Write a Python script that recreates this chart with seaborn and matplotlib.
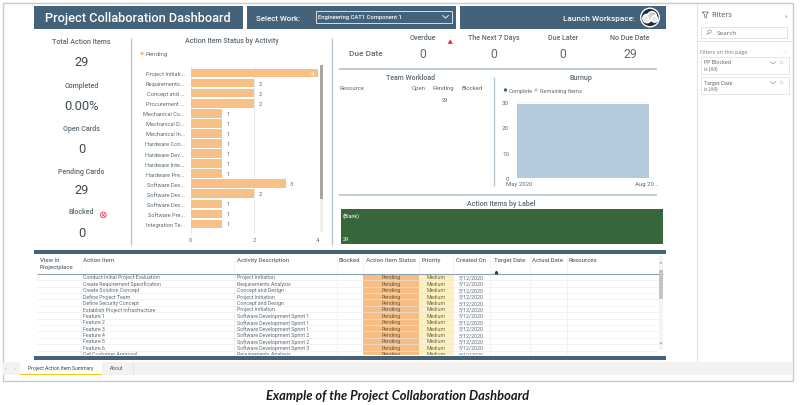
import matplotlib
matplotlib.use("Agg")
import matplotlib.pyplot as plt
from matplotlib.patches import Rectangle, Circle, Polygon
import seaborn as sns
import pandas as pd

activities = ["Project Initiati...", "Requirements...", "Concept and ...", "Procurement ...", "Mechanical Co...",
              "Mechanical D...", "Mechanical In...", "Hardware Con...", "Hardware Dev...", "Hardware Inte...",
              "Hardware Pre...", "Software Dev...", "Software Dev... ", "Software Dev...  ", "Software Pre...",
              "Integration Te..."]
pending = [4, 2, 2, 2, 1, 1, 1, 1, 1, 1, 1, 3, 2, 1, 1, 1]

burn_weeks = ["May 2020", "w2", "w3", "w4", "w5", "w6", "w7", "w8", "w9", "w10", "w11", "w12", "w13", "w14", "w15", "Aug 20..."]
burn_remaining = [29, 29, 29, 29, 29, 29, 29, 29, 29, 29, 29, 29, 29, 29, 29, 29]

kpi_labels = ["Total Action Items", "Completed", "Open Cards", "Pending Cards", "Blocked"]
kpi_values = ["29", "0.00%", "0", "29", "0"]
due_labels = ["Overdue", "The Next 7 Days", "Due Later", "No Due Date"]
due_values = ["0", "0", "0", "29"]

table_items = ["Conduct Initial Project Evaluation", "Create Requirement Specification", "Create Solution Concept",
               "Define Project Team", "Define Security Concept", "Establish Project Infrastructure",
               "Feature 1", "Feature 2", "Feature 3", "Feature 4", "Feature 5", "Feature 6", "Get Customer Approval"]
table_activity = ["Project Initiation", "Requirements Analysis", "Concept and Design", "Project Initiation",
                  "Concept and Design", "Project Initiation", "Software Development Sprint 1",
                  "Software Development Sprint 1", "Software Development Sprint 1", "Software Development Sprint 2",
                  "Software Development Sprint 2", "Software Development Sprint 3", "Requirements Analysis"]
table_status = "Pending"
table_priority = "Medium"
table_created = "5/12/2020"

FONT = ["Roboto", "DejaVu Sans"]
sns.set_theme(style="white")
plt.rcParams["font.family"] = FONT

NAVY = "#44627a"
GREY = "#5f6b73"
DARK = "#3f4a52"
RULE = "#b8c6d0"
ORANGE = "#f7c086"
BLUE = "#b3cbdd"

W, H = 800, 406
fig = plt.figure(figsize=(W / 100, H / 100), dpi=100, facecolor="white")
bg = fig.add_axes([0, 0, 1, 1])
bg.set_xlim(0, W); bg.set_ylim(H, 0); bg.axis("off")


def rect(x0, y0, x1, y1, fc, ec="none", lw=0, z=1):
    bg.add_patch(Rectangle((x0, y0), x1 - x0, y1 - y0, fc=fc, ec=ec, lw=lw, zorder=z))


def hline(x0, x1, y, c=RULE, lw=1.0, z=2):
    bg.plot([x0, x1], [y, y], color=c, lw=lw, zorder=z, solid_capstyle="butt")


def vline(x, y0, y1, c=RULE, lw=1.0, z=2):
    bg.plot([x, x], [y0, y1], color=c, lw=lw, zorder=z, solid_capstyle="butt")


def txt(x, y, s, size=5.5, c=GREY, ha="left", weight="normal", **kw):
    return bg.text(x, y, s, fontsize=size, color=c, ha=ha, va="center", fontweight=weight, zorder=6, **kw)


# outer frame
bg.add_patch(Rectangle((2.5, 4), 790, 378, fc="none", ec="#c9c9c9", lw=1.0, zorder=1))
rect(34, 30, 665, 362, "#ffffff")

# header bands
rect(34, 6.5, 243, 30, NAVY)
rect(247, 6.5, 456, 30, NAVY)
rect(460, 6.5, 665.5, 30, NAVY)
txt(45, 18.5, "Project Collaboration Dashboard", size=9.2, c="white", weight="medium")
txt(256, 19, "Select Work:", size=5.7, c="white", weight="medium")
bg.add_patch(Rectangle((315.5, 12), 136, 11.5, fc="none", ec="#d5dee5", lw=0.7, zorder=3))
txt(318, 17.7, "Engineering CAT1 Component 1", size=4.2, c="white", weight="medium")
bg.plot([442.5, 445.5, 448.5], [16.3, 19.2, 16.3], color="white", lw=0.6, zorder=4)
txt(563, 18.5, "Launch Workspace:", size=5.9, c="white", weight="medium")
bg.add_patch(Circle((650, 18.5), 9.3, fc="#232b33", zorder=4))
bg.add_patch(Circle((647, 19.5), 4.2, fc="#e8e8e8", zorder=5))
bg.add_patch(Circle((652, 17), 4.4, fc="#cfcfcf", zorder=5))
bg.add_patch(Circle((654.5, 20), 3.2, fc="#e8e8e8", zorder=5))

# KPI column
kpi_label_y = [42.5, 85.5, 129, 172, 212.5]
kpi_value_y = [62.5, 106, 150, 191, 233.5]
for lab, val, ly, vy in zip(kpi_labels, kpi_values, kpi_label_y, kpi_value_y):
    txt(81.5, ly, lab, size=5.1, ha="center", weight="medium")
    txt(81.5, vy, val, size=9.3, c=DARK, ha="center")
bg.add_patch(Circle((103.3, 216), 2.8, fc="none", ec="#e0566b", lw=0.7, zorder=4))
bg.plot([102, 104.6], [214.7, 217.3], color="#e0566b", lw=0.6, zorder=4)
bg.plot([102, 104.6], [217.3, 214.7], color="#e0566b", lw=0.6, zorder=4)
vline(130.5, 39, 246)
vline(331.7, 39, 246)

# bar chart
txt(231.5, 41, "Action Item Status by Activity", size=5.1, ha="center", weight="medium")
bg.add_patch(Circle((142, 54.5), 2.4, fc=ORANGE, zorder=4))
txt(145.5, 54.5, "Pending", size=4.4)

def px_axes(x0, y0, x1, y1):
    return fig.add_axes([x0 / W, 1 - y1 / H, (x1 - x0) / W, (y1 - y0) / H], facecolor="none")

ax = px_axes(190.7, 66, 317.7, 235)
bar_df = pd.DataFrame({"activity": activities, "pending": pending})
sns.barplot(data=bar_df, y="activity", x="pending", color=ORANGE, saturation=1, width=0.82, ax=ax, zorder=3,
            orient="h", linewidth=0)
ax.set_xlim(0, 4)
ax.set_ylim(16.03, -0.83)
ax.set_xticks([0, 2, 4])
ax.set_yticks(range(len(activities)))
ax.set_yticklabels([a.strip() for a in activities])
ax.set_xlabel(""); ax.set_ylabel("")
ax.grid(axis="x", color="#9a9a9a", ls=(0, (1, 2)), lw=0.5, zorder=0)
ax.grid(axis="y", visible=False)
for s in ax.spines.values():
    s.set_visible(False)
ax.tick_params(axis="y", length=0, pad=4.2, labelsize=4.1, labelcolor=GREY)
ax.tick_params(axis="x", length=0, pad=2.5, labelsize=4.2, labelcolor=GREY)
for i, v in enumerate(pending):
    if v >= 4:
        ax.text(v - 0.12, i, str(v), fontsize=4.2, color="white", ha="right", va="center", zorder=5)
    else:
        ax.text(v + 0.13, i, str(v), fontsize=4.2, color=GREY, ha="left", va="center", zorder=5)
rect(319.5, 66, 323, 233, "#efefef", z=3)
rect(319.5, 66, 323, 200, "#a6a6a6", z=4)

# due date strip
due_x = [423, 493.5, 563, 630]
txt(365.5, 54.5, "Due Date", size=6.0, weight="medium", ha="center")
for lab, val, x in zip(due_labels, due_values, due_x):
    txt(x, 37.5, lab, size=5.1, ha="center", weight="medium")
    txt(x, 55, val, size=8.8, c=GREY, ha="center")
bg.add_patch(Polygon([[446.5, 45.5], [450.3, 39], [454, 45.5]], fc="#e02b2b", zorder=4))
hline(339, 657, 70, lw=1.3)

# team workload
txt(411, 77.5, "Team Workload", size=5.0, ha="center", weight="medium")
txt(340, 88.5, "Resource", size=4.3)
txt(419, 88.5, "Open", size=4.3, ha="center")
txt(443.5, 88.5, "Pending", size=4.3, ha="center")
txt(472, 88.5, "Blocked", size=4.3, ha="center")
txt(445, 100.5, "29", size=4.1, ha="center")
vline(493.5, 78, 187)

# burnup
txt(580.5, 77.5, "Burnup", size=5.2, ha="center", weight="medium")
bg.add_patch(Circle((505.5, 91), 2.4, fc="#2f6690", zorder=4))
txt(508.3, 91, "Complete", size=4.1)
bg.add_patch(Circle((536, 91), 2.4, fc=BLUE, zorder=4))
txt(539.5, 91, "Remaining Items", size=4.1)

ax2 = px_axes(516.7, 102.7, 649, 179)
burn_df = pd.DataFrame({"week": burn_weeks, "remaining": burn_remaining})
sns.barplot(data=burn_df, x="week", y="remaining", color=BLUE, saturation=1, width=1.0, ax=ax2, zorder=3, linewidth=0)
ax2.set_xlim(-0.5, len(burn_weeks) - 0.5)
ax2.set_ylim(0, 30)
ax2.set_yticks([0, 10, 20, 30])
ax2.set_xlabel(""); ax2.set_ylabel("")
ax2.set_xticks([0, len(burn_weeks) - 1])
ax2.set_xticklabels([])
for s in ax2.spines.values():
    s.set_visible(False)
ax2.grid(axis="x", visible=False)
ax2.grid(axis="y", color="#bdbdbd", ls=(0, (1, 2)), lw=0.4, zorder=0)
ax2.tick_params(axis="y", length=0, pad=5.5, labelsize=4.4, labelcolor=GREY)
ax2.tick_params(axis="x", length=0)
txt(506, 185, burn_weeks[0], size=4.3)
txt(658.5, 185, burn_weeks[-1], size=4.3, ha="right")

# treemap
hline(339, 657, 196.3, lw=1.2)
txt(501.5, 204, "Action Items by Label", size=5.15, ha="center", weight="medium")
rect(340.5, 210, 663, 244.5, "#36663a", z=3)
txt(342.5, 216.5, "(Blank)", size=3.9, c="white")
txt(342.5, 240, "29", size=3.9, c="white")

# table
rect(34, 251, 665.5, 254.8, NAVY, z=5)
rect(34, 357.3, 665.5, 361, NAVY, z=5)
txt(40, 261, "View in", size=4.3, weight="medium")
txt(40, 267.8, "Projectplace", size=4.3, weight="medium")
headers = [(83, "Action Item"), (236.7, "Activity Description"), (339, "Blocked"), (366, "Action Item Status"),
           (422, "Priority"), (456, "Created On"), (493.5, "Target Date"), (532.5, "Actual Date"), (569, "Resources")]
for x, s in headers:
    txt(x, 261, s, size=4.3, weight="medium")
bg.plot([495.5], [272.5], marker="^", ms=1.8, color="#333333", zorder=6)
hline(37, 663, 274.8, c="#8fa1ae", lw=0.8, z=4)
for x in [80.5, 233.5, 336.5, 363.3, 419, 453, 490, 529.5, 566.5]:
    vline(x, 256, 274, c="#eeeeee", lw=0.5)
    vline(x, 275, 355.5, c="#eeeeee", lw=0.5)

row_h = 6.4
rect(363.3, 275, 419, 355.5, "#f6bd85", z=2)
rect(419, 275, 453, 355.5, "#fdf0c0", z=2)
for i in range(13):
    y = 278 + i * row_h
    if i < 12:
        hline(37, 658, y + 3.2, c="#e8e8e8", lw=0.4, z=3)
    clip = Rectangle((0, 275), 800, 80.5, transform=bg.transData)
    t = [txt(83, y, table_items[i], size=3.8),
         txt(236.7, y, table_activity[i], size=3.8),
         txt(391.2, y, table_status, size=3.8, ha="center", c="#6b5a3e"),
         txt(436, y, table_priority, size=3.8, ha="center", c="#6b6b3e"),
         txt(471.3, y, table_created, size=3.8, ha="center")]
    for tt in t:
        tt.set_clip_path(clip)
        tt.set_clip_on(True)

# table scrollbar
rect(658.5, 256, 663, 351, "#f4f4f4", z=3)
rect(658.5, 271, 663, 300, "#c4c4c4", z=4)
bg.plot([659.7, 660.7, 661.7], [264.5, 263, 264.5], color="#888888", lw=0.4, zorder=5)
bg.plot([659.7, 660.7, 661.7], [343.5, 345, 343.5], color="#888888", lw=0.4, zorder=5)

# tab bar
rect(3, 362.5, 792.5, 376, "#f3f2f1", z=2)
rect(19.5, 362.5, 102, 376, "#ffffff", z=3)
rect(19.5, 375, 102, 376.2, "#f2c811", z=4)
vline(132.5, 362.5, 376, c="#dddddd", lw=0.5, z=4)
txt(60.5, 369, "Project Action Item Summary", size=3.6, c="#444444", ha="center")
txt(117, 369, "About", size=3.6, c="#555555", ha="center")
txt(6, 369, "‹", size=4.5, c="#aaaaaa", ha="center")
txt(15, 369, "›", size=4.5, c="#aaaaaa", ha="center")

# filter pane
vline(697, 4.5, 362, c="#e3e3e3", lw=0.8)
FF = ["Open Sans", "DejaVu Sans"]
txt(711, 15.5, "Filters", size=5.3, c="#555555", family=FF)
bg.plot([702.5, 708.5, 706.3, 706.3, 704.7, 704.7, 702.5], [13, 13, 15.8, 19, 18, 15.8, 13], color="#666666", lw=0.5, zorder=5)
txt(785.5, 16.5, "›", size=6, c="#777777", ha="center")
bg.add_patch(Rectangle((700.5, 28), 86.5, 11, fc="white", ec="#e3e3e3", lw=0.7, zorder=3))
txt(716.5, 33.5, "Search", size=4.6, c="#666666", family=FF)
bg.add_patch(Circle((709.5, 32.7), 1.7, fc="none", ec="#777777", lw=0.4, zorder=5))
bg.plot([708.2, 706.5], [34, 35.8], color="#777777", lw=0.4, zorder=5)
hline(697, 792, 42, c="#e3e3e3", lw=0.7)
txt(700.5, 52.5, "Filters on this page", size=3.9, c="#777777", family=FF)
txt(784.5, 51.5, "···", size=4, c="#aaaaaa", ha="center")
for y0, name in [(57.5, "PP Blocked"), (77.5, "Target Date")]:
    bg.add_patch(Rectangle((700.5, y0), 88, 17, fc="white", ec="#e3e3e3", lw=0.6, zorder=3))
    txt(704, y0 + 5.5, name, size=3.8, c="#555555", family=FF)
    txt(704, y0 + 12, "is (All)", size=3.6, c="#666666", family=FF)
    bg.plot([770, 773, 776], [y0 + 5, y0 + 7.5, y0 + 5], color="#888888", lw=0.4, zorder=5)
    bg.add_patch(Circle((781.5, y0 + 6), 1.4, fc="none", ec="#c8c8c8", lw=0.4, zorder=5))

# caption
txt(398, 396, "Example of the Project Collaboration Dashboard", size=9.3, c="#1a1a1a", ha="center",
    weight="bold", style="italic", family=["Lato", "DejaVu Sans"])

fig.savefig("out.png", dpi=100)
